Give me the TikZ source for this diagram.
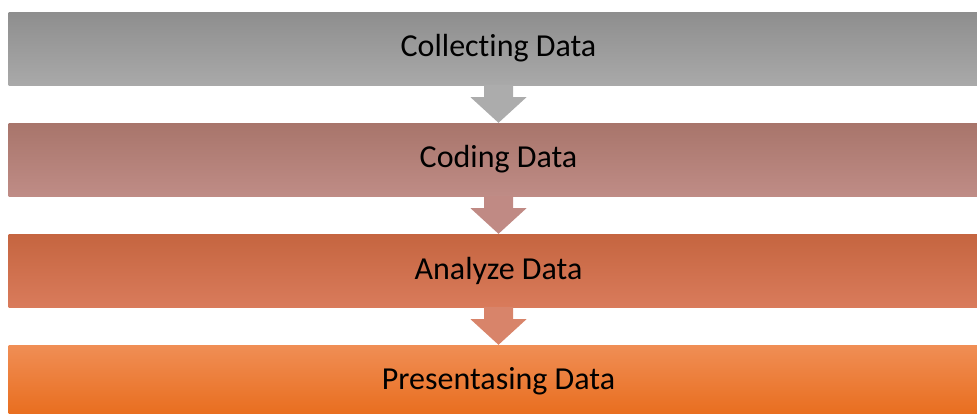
\documentclass[tikz,border=0pt]{standalone}
\usepackage{fontspec}
\setmainfont{Carlito}[Ligatures=CommonOff]
\usetikzlibrary{calc}
\definecolor{greytop}{HTML}{8E8E8E}
\definecolor{greybot}{HTML}{A9A9A9}
\definecolor{rosetop}{HTML}{A8756B}
\definecolor{rosebot}{HTML}{BF8C86}
\definecolor{rusttop}{HTML}{C56540}
\definecolor{rustbot}{HTML}{D97B5B}
\definecolor{orangetop}{HTML}{F08E55}
\definecolor{orangemid}{HTML}{F47B22}
\definecolor{orangebot}{HTML}{E86C1C}
\definecolor{arrowgrey}{HTML}{ACACAC}
\definecolor{arrowrose}{HTML}{C08A84}
\definecolor{arrowrust}{HTML}{D8846A}

\begin{document}
\begin{tikzpicture}[x=1pt,y=-1pt,
    bar/.style={minimum width=980pt, minimum height=73pt, inner sep=0pt,
        font=\fontsize{32}{38}\selectfont, text=black}]
        \useasboundingbox (0,0) rectangle (977,413);
        \clip (0,0) rectangle (977,413);

        % Stage 1
        \node[bar, top color=greytop, bottom color=greybot] (collect) at (498.5,48.5) {Collecting Data};

        % Stage 2
        \node[bar, top color=rosetop, bottom color=rosebot] (coding) at (498.5,159.5) {Coding Data};

        % Stage 3
        \node[bar, top color=rusttop, bottom color=rustbot] (analyze) at (498.5,270.5) {Analyze Data};

        % Stage 4
        \node[bar, top color=orangetop, middle color=orangemid, bottom color=orangebot] (present) at (498.5,381.5) {Presentasing Data};

        % block arrows between the stages
        \foreach \from/\to/\col in {collect/coding/arrowgrey, coding/analyze/arrowrose, analyze/present/arrowrust}
            \fill[\col] ($(\from.south)+(-14.5,0)$) -- ++(0,12) -- ++(-13.5,0) -- (\to.north)
                -- ($(\from.south)+(28,12)$) -- ++(-13.5,0) -- ++(0,-12) -- cycle;

    \end{tikzpicture}
\end{document}
